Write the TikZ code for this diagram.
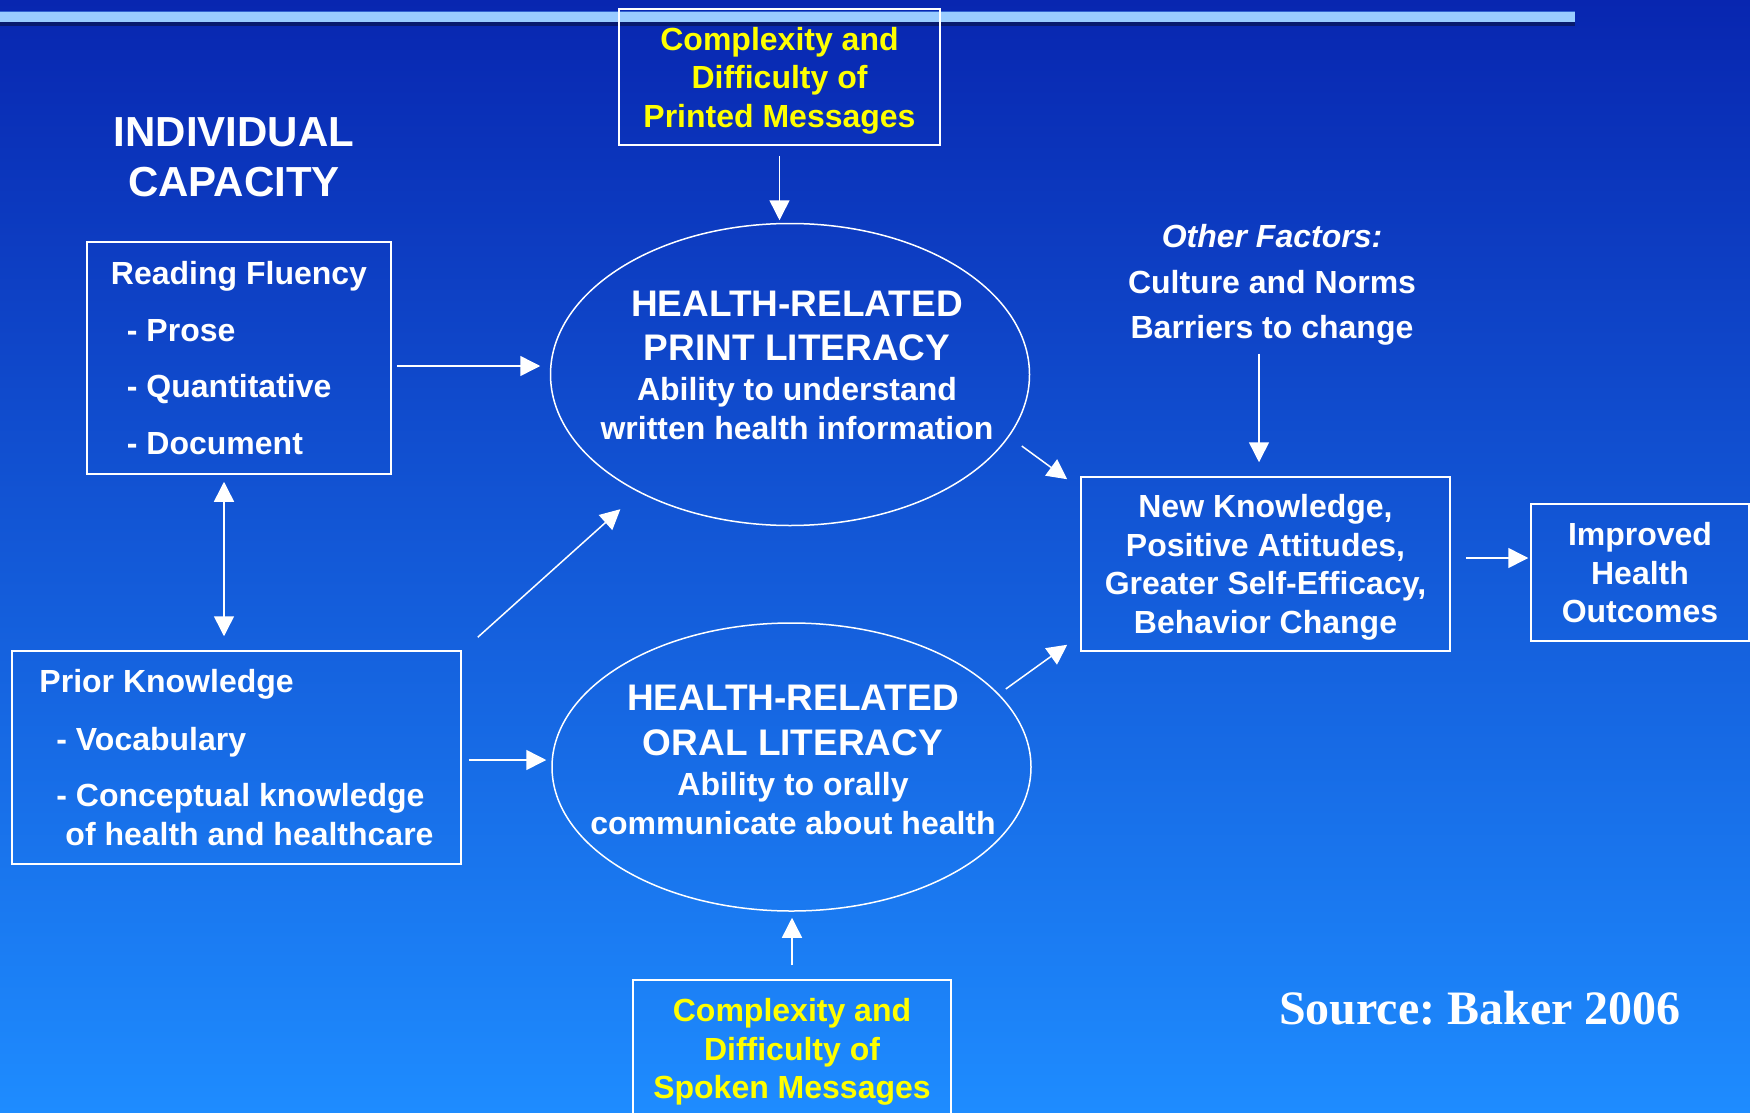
\documentclass[tikz,border=0pt]{standalone}
\usepackage{fontspec}
\setmainfont{Liberation Sans}
\newfontfamily\serifbold{Liberation Serif}
\usetikzlibrary{arrows.meta,shapes.geometric,positioning}
\definecolor{bgtop}{RGB}{8,38,176}
\definecolor{bgbot}{RGB}{30,140,255}
\definecolor{barlight}{RGB}{153,204,255}
\definecolor{bardark}{RGB}{8,26,110}
\definecolor{barline}{RGB}{50,100,210}
\definecolor{msgyellow}{RGB}{255,255,0}

\begin{document}
\begin{tikzpicture}[
  x=1pt, y=-1pt,
  txt/.style={text=white, font=\fontsize{32}{38.5}\selectfont\bfseries},
  box/.style={txt, rectangle, draw=white, line width=1.5pt, inner sep=0pt, text depth=0pt},
  msg/.style={box, text=msgyellow, align=center},
  oval/.style={ellipse, draw=white, line width=1.5pt, minimum width=479pt},
  arr/.style={-{Triangle[length=20pt,width=20pt]}, draw=white, line width=1.5pt},
  dblarr/.style={{Triangle[length=20pt,width=20pt]}-{Triangle[length=20pt,width=20pt]}, draw=white, line width=1.5pt}
]
\useasboundingbox (0,0) rectangle (1750,1113);
\clip (0,0) rectangle (1750,1113);
\shade[top color=bgtop, bottom color=bgbot] (0,0) rectangle (1750,1113);
\fill[bardark] (0,22) rectangle (1575,26);
\fill[barlight] (0,11) rectangle (1575,22);
\draw[barline, line width=1pt] (0,11.5) -- (1575,11.5);

\node[txt, align=center, font=\fontsize{42}{50}\selectfont\bfseries] (capacity) at (234,157) {INDIVIDUAL\\CAPACITY};
\node[msg, minimum width=321pt, minimum height=136pt] (printmsg) at (779.5,77) {Complexity and\\Difficulty of\\Printed Messages};
\node[box, align=left, minimum width=304pt, minimum height=232pt] (fluency) at (239,358)
  {Reading Fluency\\[18pt]\hspace*{16pt}- Prose\\[18pt]\hspace*{16pt}- Quantitative\\[18pt]\hspace*{16pt}- Document};
\node[box, align=left, minimum width=449pt, minimum height=213pt] (prior) at (236.5,757.5)
  {Prior Knowledge\\[19pt]\hspace*{17pt}- Vocabulary\\[18pt]\hspace*{17pt}- Conceptual knowledge\\\hspace*{26pt}of health and healthcare};

\node[oval, minimum height=302pt] (printlit) at (790,374.5) {};
\node[txt, align=center] (printtxt) at ([shift={(7,-9)}]printlit.center)
  {{\fontsize{37}{44}\selectfont HEALTH-RELATED}\\[5pt]{\fontsize{37}{44}\selectfont PRINT LITERACY}\\[2pt]Ability to understand\\written health information};
\node[oval, minimum height=288pt] (orallit) at (791.5,767) {};
\node[txt, align=center] (oraltxt) at ([shift={(1.5,-7)}]orallit.center)
  {{\fontsize{37}{44}\selectfont HEALTH-RELATED}\\[6pt]{\fontsize{37}{44}\selectfont ORAL LITERACY}\\[2pt]Ability to orally\\communicate about health};
\node[msg, minimum width=318pt, minimum height=137pt] (spokenmsg) at (792,1048.5) {Complexity and\\Difficulty of\\Spoken Messages};

\node[txt, align=center] (others) at (1272,285) {\textit{Other Factors:}\\[7pt]Culture and Norms\\[7pt]Barriers to change};
\node[box, align=center, minimum width=369pt, minimum height=174pt] (change) at (1265.5,564)
  {New Knowledge,\\Positive Attitudes,\\Greater Self-Efficacy,\\Behavior Change};
\node[box, align=center, minimum width=218pt, minimum height=137pt] (outcomes) at (1640,572.5) {Improved\\Health\\Outcomes};

\node[text=white, font=\serifbold\fontsize{48}{48}\bfseries\selectfont] (source) at (1480,1008) {Source:\ Baker 2006};

\draw[arr, shorten <=10pt, shorten >=2.5pt] (printmsg.south) -- (printmsg.south |- printlit.north);
\draw[arr, shorten <=5pt, shorten >=9.5pt] ([yshift=-8pt]fluency.east) -- ([yshift=-8pt]fluency.east -| printlit.west);
\draw[dblarr, shorten <=7pt, shorten >=14pt] ([xshift=-15pt]fluency.south) -- ([xshift=-15pt]fluency.south |- prior.north);
\draw[arr, shorten >=25pt] ([shift={(16,-13)}]prior.north east) -- (printlit.218);
\draw[arr, shorten <=7pt, shorten >=5pt] ([yshift=-2.5pt]prior.east) -- ([yshift=-2.5pt]prior.east -| orallit.west);
\draw[arr] ([shift={(-8.5,71.5)}]printlit.east) -- ([shift={(-13,3)}]change.north west);
\draw[arr] ([shift={(-26,-78)}]orallit.east) -- ([shift={(-13,-7)}]change.south west);
\draw[arr, shorten <=4.5pt, shorten >=14pt] ([xshift=-13pt]others.south) -- ([xshift=-13pt]others.south |- change.north);
\draw[arr, shorten <=15pt, shorten >=2pt] ([yshift=6pt]change.east) -- ([yshift=6pt]change.east -| outcomes.west);
\draw[arr, shorten <=14pt, shorten >=6pt] (spokenmsg.north) -- (spokenmsg.north |- orallit.south);
\end{tikzpicture}
\end{document}
